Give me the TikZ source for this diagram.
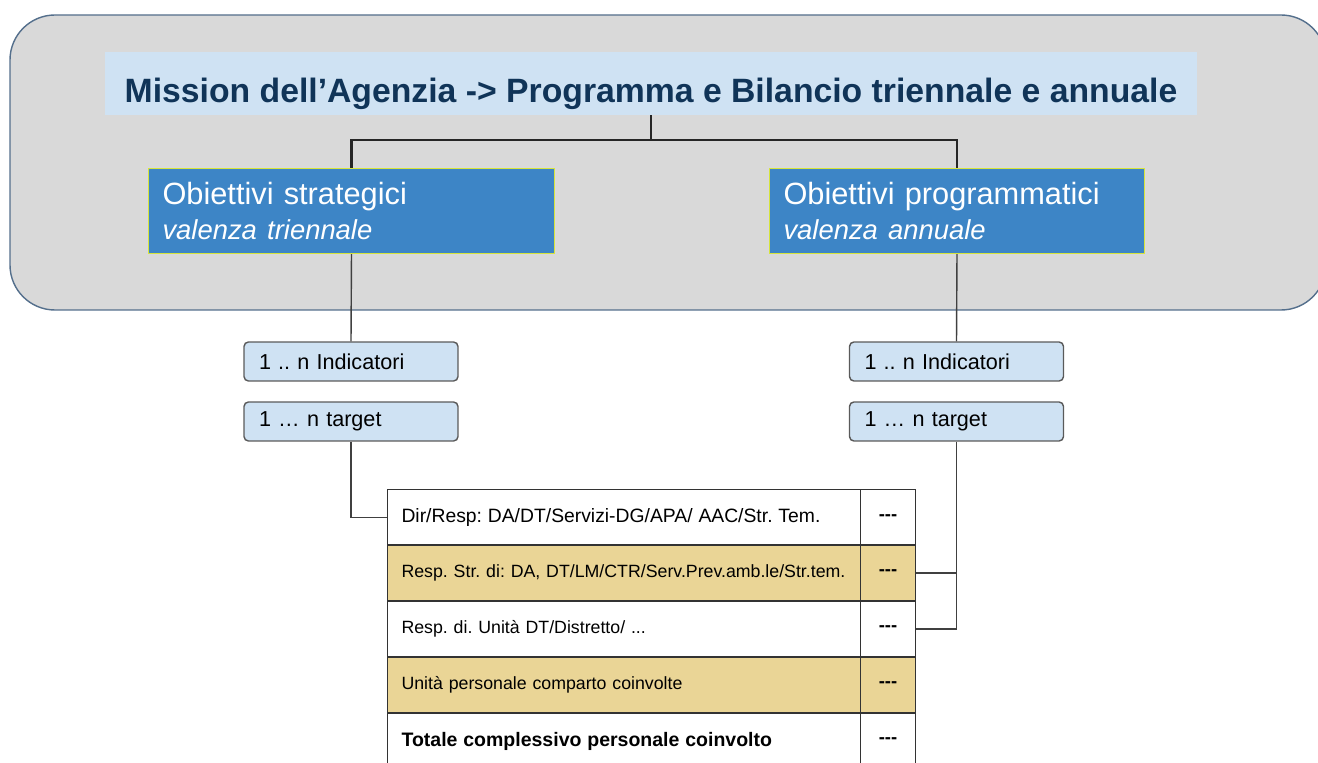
\documentclass[tikz,border=0pt]{standalone}
\usepackage{fontspec}
\setmainfont{Liberation Sans}
\usetikzlibrary{positioning}

\definecolor{framegray}{RGB}{217,217,217}
\definecolor{frameedge}{RGB}{84,111,140}
\definecolor{lightblue}{RGB}{207,226,243}
\definecolor{navy}{RGB}{16,52,88}
\definecolor{objblue}{RGB}{61,133,198}
\definecolor{objedge}{RGB}{214,228,60}
\definecolor{boxedge}{RGB}{90,90,90}
\definecolor{rowyellow}{RGB}{234,213,150}

\tikzset{
  frame/.style={fill=framegray, draw=frameedge, line width=0.8pt, rounded corners=0.9cm},
  titlebox/.style={fill=lightblue, minimum width=21.84cm, inner ysep=0pt, text height=1.02cm, text depth=0.24cm, text=navy, font=\fontsize{19.2}{23}\selectfont\bfseries},
  objbox/.style={fill=objblue, draw=objedge, line width=0.6pt, text=white, minimum height=1.7cm, inner xsep=0.28cm, align=left, font=\fontsize{17.5}{20}\selectfont, anchor=north west},
  smallbox/.style={fill=lightblue, draw=boxedge, line width=0.8pt, rounded corners=2.5pt, minimum width=4.28cm, minimum height=0.78cm, text width=3.68cm, inner xsep=0.3cm, align=left, font=\fontsize{12.3}{14}\selectfont},
  cell/.style={draw=black!80, line width=0.6pt, minimum width=9.46cm, minimum height=1.12cm, text width=8.9cm, inner xsep=0.28cm, align=left, anchor=west},
  valcell/.style={draw=black!80, line width=0.6pt, minimum width=1.1cm, minimum height=1.12cm, font=\fontsize{10.5}{12}\selectfont\bfseries, anchor=west},
  conn/.style={draw=black!85, line width=1.2pt},
  link/.style={draw=black!75, line width=0.8pt},
}

\begin{document}
\frenchspacing
\begin{tikzpicture}[x=0.02cm, y=-0.02cm]
        \useasboundingbox (0,0) rectangle (1318,763);

        % upper panel
        \draw[frame] (10,15) rectangle (1326,310);
        \node[titlebox] (mission) at (651,83.5) {Mission dell’Agenzia -> Programma e Bilancio triennale e annuale};
        \node[objbox, minimum width=8.12cm, text width=7.56cm] (strat) at (148,168) {Obiettivi strategici\\{\fontsize{15.6}{20}\selectfont\itshape valenza triennale}};
        \node[objbox, minimum width=7.5cm, text width=6.94cm] (prog) at (769,168) {Obiettivi programmatici\\{\fontsize{15.6}{20}\selectfont\itshape valenza annuale}};
        \coordinate (split) at (651,140);

        \draw[conn] (mission.south) -- (split);
        \draw[conn] (strat.north) |- (split) -| (prog.north);

        % indicatori / target
        \node[smallbox] (lind) at (351,361.5) {1 .. n Indicatori};
        \node[smallbox] (ltarget) at (351,421.5) {1 … n target};
        \node[smallbox] (rind) at (956.5,361.5) {1 .. n Indicatori};
        \node[smallbox] (rtarget) at (956.5,421.5) {1 … n target};

        \draw[link] (strat.south) -- (lind.north);
        \draw[link] (prog.south) -- (rind.north);

        % table
        \foreach \i/\y/\col/\txt in {
            1/517.5/white/{\fontsize{11}{13}\selectfont Dir/Resp: DA/DT/Servizi-DG/APA/ AAC/Str. Tem.},
            2/573/rowyellow/{\fontsize{10.1}{12}\selectfont Resp. Str. di: DA, DT/LM/CTR/Serv.Prev.amb.le/Str.tem.},
            3/629/white/{\fontsize{10.1}{12}\selectfont Resp. di. Unità DT/Distretto/ ...},
            4/685/rowyellow/{\fontsize{10.1}{12}\selectfont Unità personale comparto coinvolte},
            5/741/white/{\fontsize{11.1}{13}\selectfont\bfseries Totale complessivo personale coinvolto}} {
            \node[cell, fill=\col] (row\i) at (387,\y) {\txt};
            \node[valcell, fill=\col] (val\i) at (860,\y) {-{}-{}-};
        }

        \draw[link] (ltarget.south) |- (row1.west);
        \draw[link] (rtarget.south) |- (val3.east);
        \draw[link] (val2.east) -- (val2.east -| rtarget.south);
\end{tikzpicture}
\end{document}
